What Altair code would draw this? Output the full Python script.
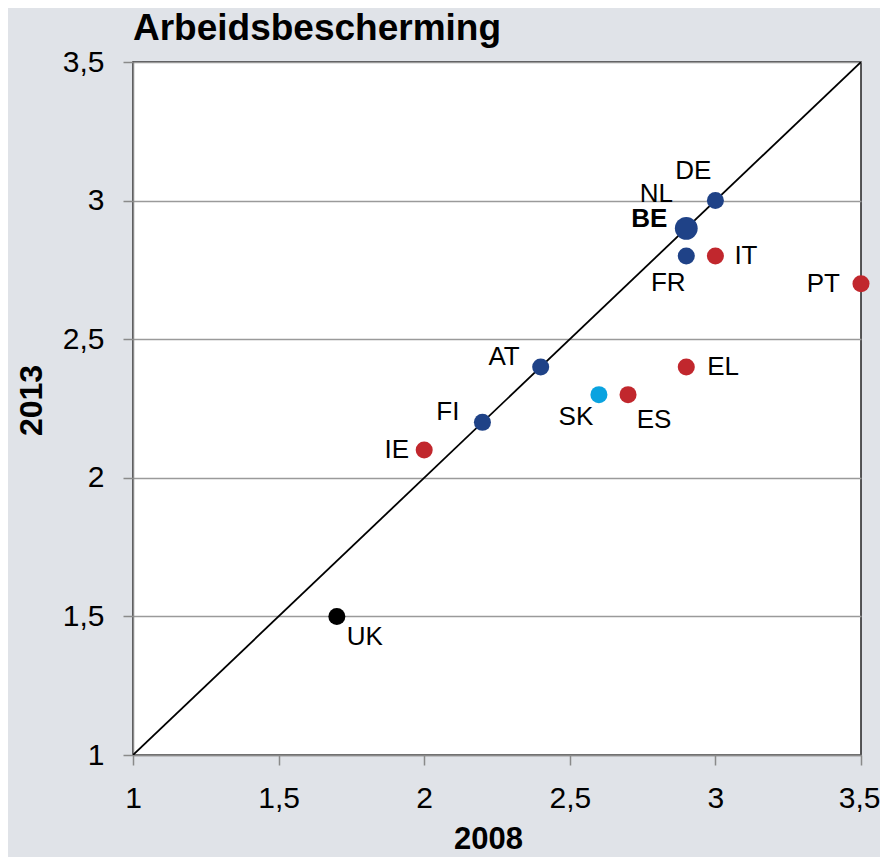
import altair as alt
import pandas as pd

countries = ["NL", "DE", "BE", "FR", "IT", "PT", "AT", "EL", "SK", "ES", "FI", "IE", "UK"]
x2008 = [2.9, 3.0, 2.9, 2.9, 3.0, 3.5, 2.4, 2.9, 2.6, 2.7, 2.2, 2.0, 1.7]
y2013 = [2.9, 3.0, 2.9, 2.8, 2.8, 2.7, 2.4, 2.4, 2.3, 2.3, 2.2, 2.1, 1.5]
groups = ["g1", "g1", "g1", "g1", "g2", "g2", "g1", "g2", "g3", "g2", "g1", "g2", "g4"]
ticks = [1, 1.5, 2, 2.5, 3, 3.5]
diag = [1, 3.5]

df = pd.DataFrame({"country": countries, "x": x2008, "y": y2013, "group": groups})
diag_df = pd.DataFrame({"x": diag, "y": diag})

FONT = "Liberation Sans"
xs = alt.Scale(domain=[1, 3.5], nice=False, zero=False)
ys = alt.Scale(domain=[1, 3.5], nice=False, zero=False)
lab = "replace(format(datum.value, '.1~f'), '.', ',')"

xaxis = alt.Axis(values=ticks, grid=False, tickSize=10, tickColor="#8a8a8a", tickWidth=1.5,
                 domainColor="#8a8a8a", domainWidth=1.5, labelFontSize=30, labelFont=FONT,
                 labelColor="#000", labelPadding=18, labelExpr=lab, title="2008",
                 labelAlign=alt.condition("datum.value == 3.5", alt.value("right"), alt.value("center")),
                 labelOffset=alt.condition("datum.value == 3.5", alt.value(19), alt.value(0)),
                 titleFont=FONT, titleFontSize=31, titleFontWeight="bold", titleColor="#000",
                 titleX=355, titleY=84, titleBaseline="middle", titleAnchor="start",
                 titleAlign="center", labelFlush=False)
yaxis = alt.Axis(values=ticks, grid=True, gridColor="#9a9a9a", gridWidth=1.5, tickSize=10,
                 tickColor="#8a8a8a", tickWidth=1.5, domainColor="#8a8a8a", domainWidth=1.5,
                 labelFontSize=30, labelFont=FONT, labelColor="#000", labelPadding=19,
                 labelExpr=lab, title="2013", titleFont=FONT, titleFontSize=32,
                 titleFontWeight="bold", titleColor="#000", titleX=-102, titleY=338,
                 titleBaseline="middle", titleAlign="center", titleAngle=270, labelFlush=False)

base = alt.Chart(df)

line = alt.Chart(diag_df).mark_line(color="#000", strokeWidth=1.8, clip=True).encode(
    x=alt.X("x:Q", scale=xs, axis=xaxis),
    y=alt.Y("y:Q", scale=ys, axis=yaxis),
)

color = alt.Color("group:N", legend=None,
                  scale=alt.Scale(domain=["g1", "g2", "g3", "g4"],
                                  range=["#1f4287", "#c1272d", "#0aa3e0", "#000000"]))

points = base.mark_circle(opacity=1).encode(
    x=alt.X("x:Q", scale=xs),
    y=alt.Y("y:Q", scale=ys),
    color=color,
    size=alt.condition("datum.country == 'BE'", alt.value(520), alt.value(290)),
)

placement = {
    "DE": (-22, -30, "center"),
    "NL": (-30, -34, "center"),
    "BE": (-19, -9, "right"),
    "FR": (-18, 27, "center"),
    "IT": (19, 0, "left"),
    "PT": (-21, 0, "right"),
    "AT": (-21, -10, "right"),
    "EL": (21, 0, "left"),
    "SK": (-23, 22, "center"),
    "ES": (26, 25, "center"),
    "FI": (-23, -10, "right"),
    "IE": (-15, 0, "right"),
    "UK": (28, 21, "center"),
}

labels = []
for c, (dx, dy, al) in placement.items():
    labels.append(
        base.transform_filter(alt.datum.country == c).mark_text(
            dx=dx, dy=dy, align=al, baseline="middle", font=FONT, fontSize=26,
            fontWeight="bold" if c == "BE" else "normal", color="#000"
        ).encode(x=alt.X("x:Q", scale=xs), y=alt.Y("y:Q", scale=ys), text="country:N")
    )

chart = alt.layer(line, points, *labels).properties(
    width=728, height=693,
    autosize=alt.AutoSizeParams(type="none"),
    padding={"left": 125, "top": 54, "right": 19, "bottom": 102},
    background="#e0e3e8",
    title=alt.TitleParams("Arbeidsbescherming", anchor="start", frame="group", font=FONT,
                          fontSize=37, fontWeight="bold", color="#000", offset=2, dy=3),
).configure_view(fill="#ffffff", stroke="#222222", strokeWidth=1.5)

chart.save("out.html", embed_options={"renderer": "svg", "actions": False})
